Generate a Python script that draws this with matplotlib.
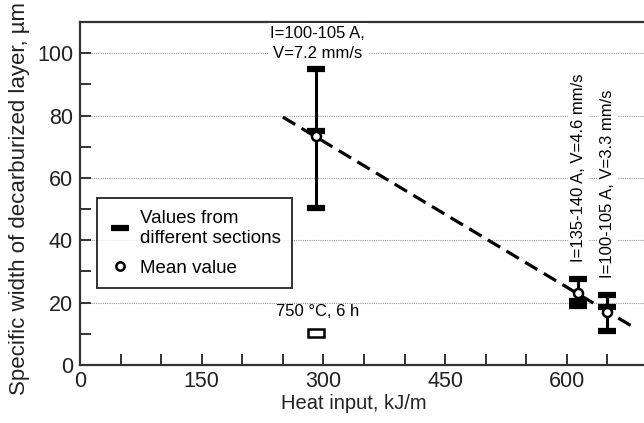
import matplotlib.pyplot as plt
from matplotlib.lines import Line2D

plt.rcParams['font.family'] = ['Liberation Sans', 'DejaVu Sans']

# heat input of each welding regime, kJ/m
heat_input = [291, 614, 650]
# mean width of decarburized layer, um
mean_width = [73.5, 23, 17]
# values measured on different sections
section_values = [[95, 75, 50.5], [27.5, 20.5, 19], [22.5, 18.5, 11]]
# dashed trend line
trend_x = [250, 683]
trend_y = [79.5, 12]
# heat treatment reference (750 C, 6 h)
ht_x = [291]
ht_y = [10.3]

regime_labels = ["I=100-105 A,\nV=7.2 mm/s", "I=135-140 A, V=4.6 mm/s", "I=100-105 A, V=3.3 mm/s"]

fig = plt.figure(figsize=(6.44, 4.23), dpi=100)
ax = fig.add_axes([80 / 644, 1 - 365 / 423, 568 / 644, 343 / 423])

axis_col = "#333333"
for s in ["left", "bottom", "top"]:
    ax.spines[s].set_linewidth(1.6)
    ax.spines[s].set_color(axis_col)
ax.spines["right"].set_visible(False)

ax.set_xlim(0, 700)
ax.set_ylim(0, 110)

# grid
for g in [20, 40, 60, 80, 100]:
    ax.axhline(g, color="#999999", lw=0.8, ls=(0, (1, 1)), zorder=0)

# trend
ax.plot(trend_x, trend_y, color="black", lw=2.3, dashes=(4.5, 2.3), zorder=2)

# error bars + section values
for x, vals, m in zip(heat_input, section_values, mean_width):
    ax.plot([x, x], [min(vals), max(vals)], color="black", lw=2.2, zorder=3)
    ax.plot([x] * len(vals), vals, ls="none", marker="_", ms=13, mew=4.5,
            color="black", zorder=4)
ax.plot(heat_input, mean_width, ls="none", marker="o", ms=6.5, mew=1.8,
        mfc="white", mec="black", zorder=5)

# heat treatment marker
ax.add_patch(plt.Rectangle((ht_x[0] - 10, ht_y[0] - 1.2), 20, 2.4,
                           facecolor="white", edgecolor="black", lw=1.8, zorder=4))

bb = dict(facecolor="white", edgecolor="none", pad=2)
ax.text(293, 103.2, regime_labels[0], ha="center", va="center", fontsize=12,
        linespacing=1.4, bbox=bb, zorder=6)
ax.text(heat_input[1], 33, regime_labels[1], rotation=90, ha="center", va="bottom",
        fontsize=12, bbox=bb, zorder=6)
ax.text(heat_input[2], 28, regime_labels[2], rotation=90, ha="center", va="bottom",
        fontsize=12, bbox=bb, zorder=6)
ax.text(293, 17, "750 °C, 6 h", ha="center", va="center", fontsize=12, zorder=6)

# ticks
xt = list(range(0, 701, 50))
ax.set_xticks(xt)
ax.set_xticklabels([str(v) if v % 150 == 0 else "" for v in xt])
yt = list(range(0, 111, 10))
ax.set_yticks(yt)
ax.set_yticklabels([str(v) if v % 20 == 0 else "" for v in yt])
ax.tick_params(direction="in", length=8, width=1.4, color=axis_col,
               labelsize=15.5, labelcolor="#222222")
ax.tick_params(axis="y", pad=5)
ax.tick_params(axis="x", pad=4)

ax.set_xlabel("Heat input, kJ/m", fontsize=14.5, color="#222222", va="center")
ax.xaxis.set_label_coords((354 - 80) / 568, (365 - 403) / 343)
ax.set_ylabel("Specific width of decarburized layer, µm", fontsize=16,
              color="#222222", va="center")
ax.yaxis.set_label_coords((19 - 80) / 568, (365 - 198) / 343)

handles = [
    Line2D([], [], ls="none", marker="_", ms=13, mew=4.5, color="black"),
    Line2D([], [], ls="none", marker="o", ms=6, mew=1.8, mfc="white", mec="black"),
]
leg = ax.legend(handles, ["Values from\ndifferent sections", "Mean value"],
                loc="lower left", bbox_to_anchor=(0.03, 0.2245), borderaxespad=0,
                fontsize=13.5, frameon=True, fancybox=False, handlelength=1.2,
                handletextpad=0.5, borderpad=0.6, labelspacing=0.65)
for t in leg.get_texts():
    t.set_linespacing(1.3)
leg.get_frame().set_edgecolor("black")
leg.get_frame().set_linewidth(1.4)
leg.set_zorder(7)

fig.savefig("out.png", dpi=100)
